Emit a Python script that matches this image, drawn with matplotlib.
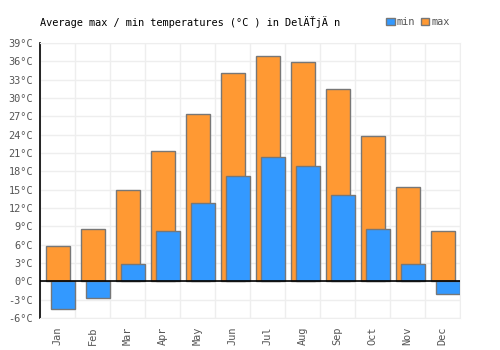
import numpy as np
import matplotlib.pyplot as plt

months = ["Jan", "Feb", "Mar", "Apr", "May", "Jun",
          "Jul", "Aug", "Sep", "Oct", "Nov", "Dec"]
t_max = [5.7, 8.5, 15.0, 21.4, 27.3, 34.0, 36.9, 35.8, 31.5, 23.7, 15.5, 8.3]
t_min = [-4.6, -2.8, 2.8, 8.2, 12.8, 17.3, 20.4, 18.9, 14.2, 8.6, 2.9, -2.0]
yticks = list(range(-6, 40, 3))

plt.rcParams['font.family'] = ['DejaVu Sans Mono', 'DejaVu Sans']

fig = plt.figure(figsize=(5, 3.5), dpi=100)
ax = fig.add_axes([0.08, 0.0914, 0.84, 0.786])

x = np.arange(len(months))
ax.bar(x + 0.18, t_max, width=0.67, align="edge", color="#ff9933",
       edgecolor="#777777", linewidth=1, label="max", zorder=2)
ax.bar(x + 0.31, t_min, width=0.69, align="edge", color="#3399ff",
       edgecolor="#777777", linewidth=1, label="min", zorder=3)

ax.set_xlim(0, 12)
ax.set_ylim(-6, 39)
ax.set_yticks(yticks)
ax.set_yticklabels([f"{v}°C" for v in yticks])
ax.set_xticks(x + 0.5)
ax.set_xticklabels(months, rotation=90)
ax.set_xticks(np.arange(13), minor=True)
ax.grid(True, which="minor", axis="x", color="#eeeeee", linewidth=1, zorder=0)
ax.grid(True, which="major", axis="y", color="#eeeeee", linewidth=1, zorder=0)
ax.tick_params(axis="both", which="both", length=0, labelsize=7.4,
               labelcolor="#555555")
ax.tick_params(axis="y", pad=5)
ax.tick_params(axis="x", pad=6)
ax.axhline(0, color="black", linewidth=1.2, zorder=4)

for side in ["top", "right", "bottom"]:
    ax.spines[side].set_color("#eeeeee")
ax.spines["left"].set_color("black")
ax.spines["left"].set_linewidth(1.2)

fig.text(0.08, 0.937, "Average max / min temperatures (°C ) in DelÄŤjÄ n",
         fontsize=7.4, color="black", va="center")

handles, labels = ax.get_legend_handles_labels()
leg = fig.legend(handles[::-1], labels[::-1], loc="center right",
                 bbox_to_anchor=(0.91, 0.937), ncol=2, frameon=False,
                 fontsize=7.4, handlelength=0.8, handleheight=0.8,
                 handletextpad=0.2, columnspacing=0.6, borderpad=0)
for t in leg.get_texts():
    t.set_color("#555555")

fig.savefig("out.png", dpi=100)
